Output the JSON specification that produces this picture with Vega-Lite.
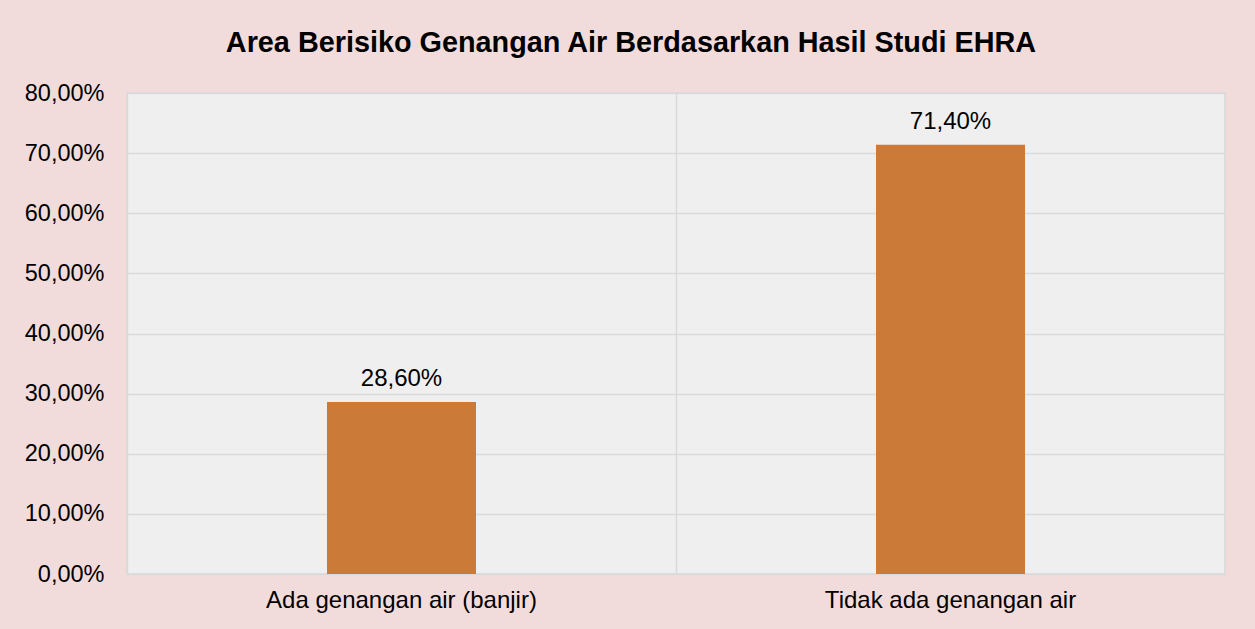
{
  "$schema": "https://vega.github.io/schema/vega-lite/v6.json",
  "width": 1098,
  "height": 481,
  "autosize": {"type": "none"},
  "padding": {"left": 127, "top": 93, "right": 30, "bottom": 55},
  "background": "#F2DCDB",
  "title": {
    "text": "Area Berisiko Genangan Air Berdasarkan Hasil Studi EHRA",
    "font": "Liberation Sans",
    "fontSize": 28.8,
    "fontWeight": "bold",
    "color": "#000000",
    "anchor": "middle",
    "frame": "group",
    "baseline": "alphabetic",
    "dx": -45,
    "offset": 0
  },
  "config": {
    "locale": {
      "number": {"decimal": ",", "thousands": ".", "grouping": [3], "currency": ["", ""]}
    },
    "view": {"fill": "#EFEFEF", "stroke": "#D9D9D9", "strokeWidth": 1.5},
    "font": "Liberation Sans"
  },
  "data": {
    "values": [
      {"kategori": "Ada genangan air (banjir)", "persen": 0.286},
      {"kategori": "Tidak ada genangan air", "persen": 0.714}
    ]
  },
  "encoding": {
    "x": {
      "field": "kategori",
      "type": "nominal",
      "sort": null,
      "scale": {"paddingInner": 0, "paddingOuter": 0},
      "axis": {
        "title": null,
        "labelAngle": 0,
        "labelLimit": 0,
        "labelFont": "Liberation Sans",
        "labelFontSize": 24,
        "labelColor": "#000000",
        "labelPadding": 14,
        "ticks": false,
        "domain": false,
        "grid": true,
        "bandPosition": 0,
        "gridColor": "#D9D9D9",
        "gridWidth": 1.5
      }
    },
    "y": {
      "field": "persen",
      "type": "quantitative",
      "scale": {"domain": [0, 0.8], "nice": false},
      "axis": {
        "title": null,
        "values": [0, 0.1, 0.2, 0.3, 0.4, 0.5, 0.6, 0.7, 0.8],
        "format": ".2%",
        "labelFont": "Liberation Sans",
        "labelFontSize": 23.5,
        "labelColor": "#000000",
        "labelPadding": 23,
        "ticks": false,
        "domain": false,
        "grid": true,
        "gridColor": "#D9D9D9",
        "gridWidth": 1.5
      }
    }
  },
  "layer": [
    {"mark": {"type": "bar", "size": 149, "color": "#CC7A38"}},
    {
      "mark": {"type": "text", "baseline": "alphabetic", "dy": -16, "fontSize": 24, "font": "Liberation Sans", "color": "#000000"},
      "encoding": {"text": {"field": "persen", "type": "quantitative", "format": ".2%"}}
    }
  ]
}
